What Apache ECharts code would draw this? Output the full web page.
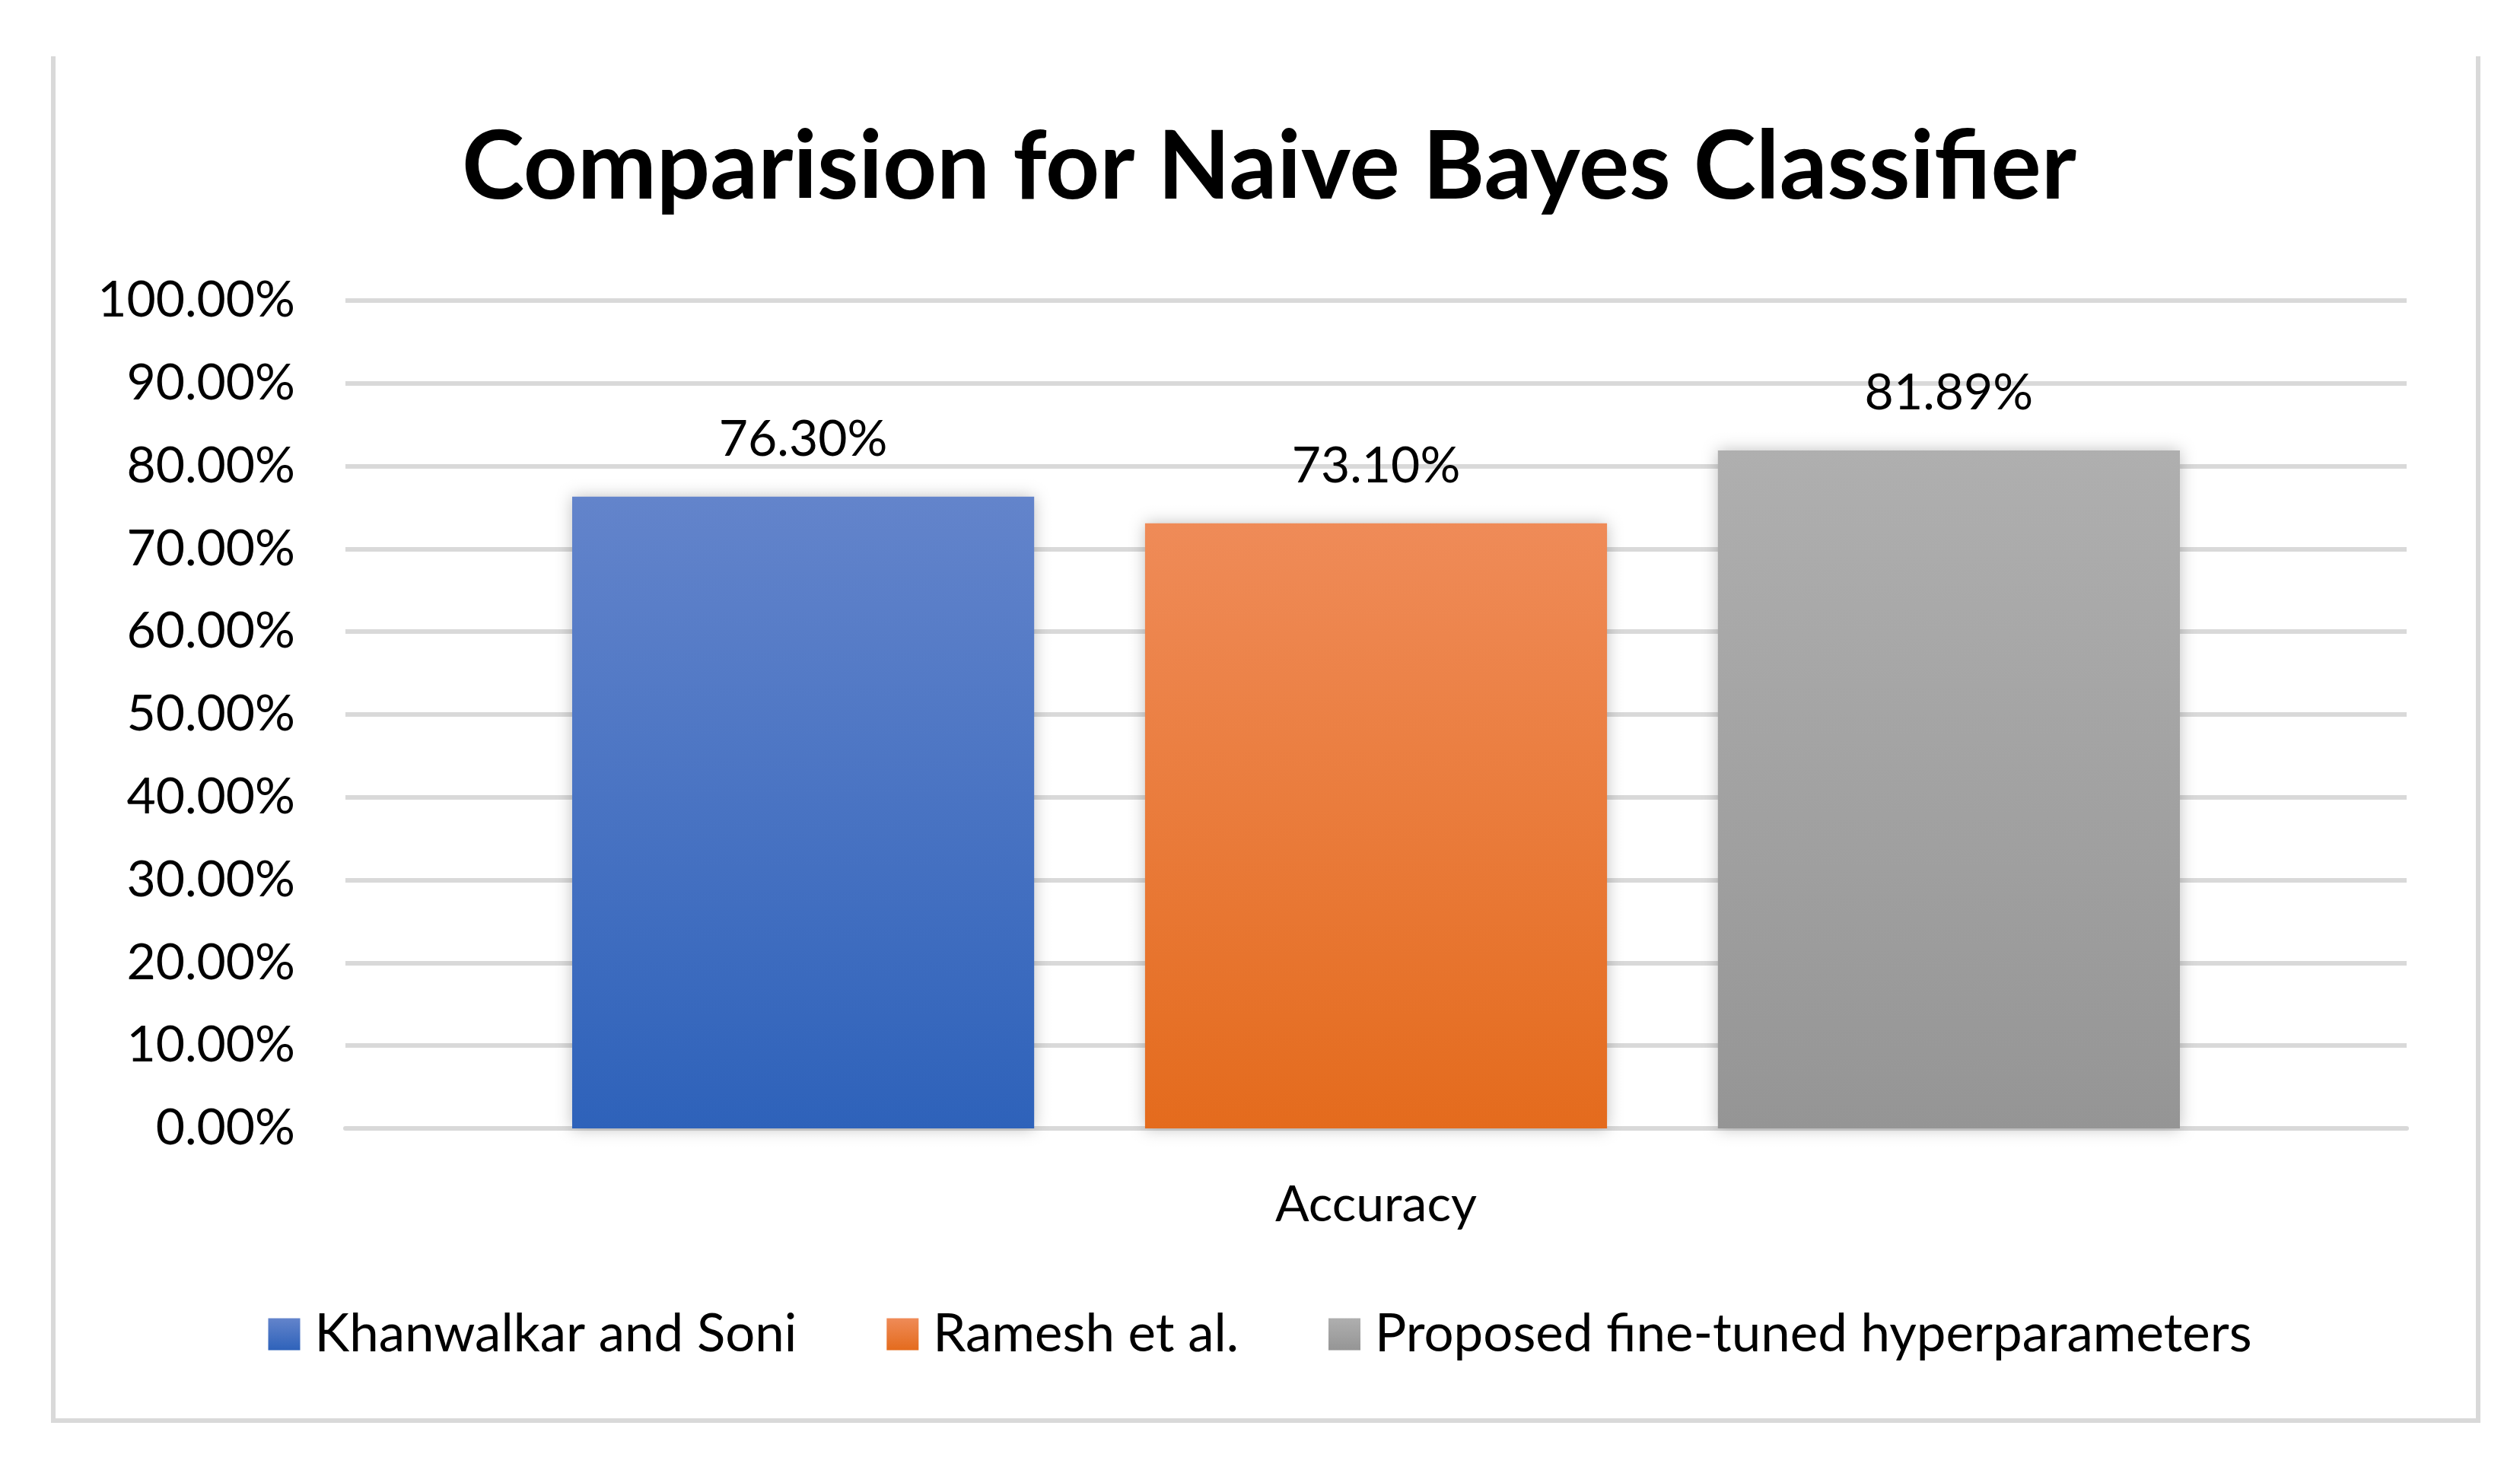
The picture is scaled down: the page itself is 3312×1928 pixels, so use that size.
<!DOCTYPE html>
<html>
<head>
<meta charset="utf-8">
<title>Comparision for Naive Bayes Classifier</title>
<script src="https://cdn.jsdelivr.net/npm/echarts@6/dist/echarts.min.js"></script>
<style>
  html, body { margin: 0; padding: 0; background: #fff; }
  #chart { width: 3312px; height: 1928px; }
</style>
</head>
<body>
<div id="chart"></div>
<script>
// data
const categories = ["Accuracy"];
const seriesNames = ["Khanwalkar and Soni", "Ramesh et al.", "Proposed fine-tuned hyperparameters"];
const seriesValues = [[0.763], [0.731], [0.8189]];
const yTicks = { min: 0, max: 1, interval: 0.1 };

// top/bottom gradient colours per series
const gradients = [
    ["#6384cb", "#2e62ba"],
    ["#ef8b58", "#e46b1d"],
    ["#afafaf", "#959595"]
];

const FONT = "Lato";
const pct = (v) => (v * 100).toFixed(2) + "%";

function gradient(pair) {
    return new echarts.graphic.LinearGradient(0, 0, 0, 1, [
        { offset: 0, color: pair[0] },
        { offset: 1, color: pair[1] }
    ]);
}

const chart = echarts.init(document.getElementById("chart"), null, { renderer: "canvas" });

const option = {
    backgroundColor: "#ffffff",
    animation: false,
    title: {
        text: "Comparision for Naive Bayes Classifier",
        left: 1663,
        textAlign: "center",
        top: 154,
        textStyle: { fontFamily: FONT, fontWeight: "bold", fontSize: 124, color: "#000" }
    },
    graphic: [
        {
            type: "polyline",
            shape: { points: [[70, 74], [70, 1867], [3257, 1867], [3257, 74]] },
            style: { stroke: "#d9d9d9", lineWidth: 6, fill: null }
        }
    ],
    legend: {
        top: 1714,
        left: "center",
        itemWidth: 42,
        itemHeight: 42,
        itemGap: 118,
        icon: "rect",
        textStyle: { fontFamily: FONT, fontSize: 69, color: "#000", padding: [0, 0, 0, 14] },
        data: seriesNames
    },
    grid: { left: 454, right: 149, top: 395, bottom: 445 },
    xAxis: {
        type: "category",
        data: categories,
        axisTick: { show: false },
        axisLine: { lineStyle: { color: "#d9d9d9", width: 6 } },
        axisLabel: { fontFamily: FONT, fontSize: 66, color: "#000", margin: 68 }
    },
    yAxis: {
        type: "value",
        min: yTicks.min,
        max: yTicks.max,
        interval: yTicks.interval,
        axisLine: { show: false },
        axisTick: { show: false },
        splitLine: { lineStyle: { color: "#d9d9d9", width: 6 } },
        axisLabel: {
            fontFamily: FONT, fontSize: 66, color: "#000", margin: 66,
            formatter: pct
        }
    },
    series: seriesNames.map((name, i) => ({
        name: name,
        type: "bar",
        data: seriesValues[i],
        barGap: "24%",
        barCategoryGap: "22%",
        itemStyle: {
            color: gradient(gradients[i]),
            shadowBlur: 20,
            shadowColor: "rgba(0,0,0,0.25)"
        },
        label: {
            show: true,
            position: "top",
            distance: 42,
            fontFamily: FONT,
            fontSize: 66,
            color: "#000",
            formatter: (p) => pct(p.value)
        }
    }))
};

chart.setOption(option);
</script>
</body>
</html>
